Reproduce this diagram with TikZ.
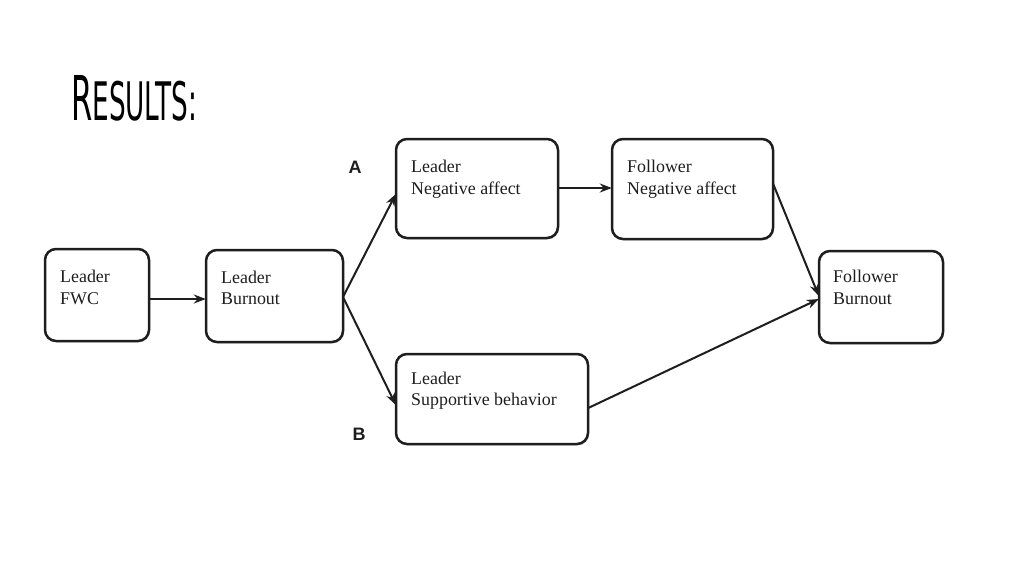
\documentclass[tikz,border=0pt]{standalone}
\usepackage{fontspec}
\setmainfont{Liberation Serif}
\newfontfamily\labfont{Liberation Sans}
\newfontfamily\titlefont{DejaVu Sans Condensed}
\usetikzlibrary{arrows.meta,shadows}
\definecolor{ink}{HTML}{1E1E1E}
\tikzset{
  box/.style={draw=ink, line width=2.5pt, rounded corners=11pt, fill=white,
    drop shadow={opacity=0.2, shadow xshift=1.2pt, shadow yshift=-1.5pt}},
  txt/.style={anchor=north west, inner sep=0pt, align=left, font=\fontsize{17.9}{21.5}\selectfont, text=ink},
  conn/.style={draw=ink, line width=2pt, -{Stealth[length=12pt,width=9pt]}},
  lab/.style={font=\labfont\bfseries\fontsize{18}{18}\selectfont, text=ink, inner sep=0pt}
}
\begin{document}
\begin{tikzpicture}[x=1pt,y=-1pt]
\useasboundingbox[fill=white] (0,0) rectangle (1024,576);
% title
\node[anchor=north west, inner sep=0pt] (title) at (71,75)
  {\resizebox{126pt}{45pt}{\titlefont R\fontsize{8.6}{9}\selectfont ESULTS:}};
% boxes
\path[box] (45,249) rectangle (149,341);
\node[inner sep=0pt, minimum width=104pt, minimum height=92pt] (fwc) at (97,295) {};
\path[box] (206,250) rectangle (343,342);
\node[inner sep=0pt, minimum width=137pt, minimum height=92pt] (lb) at (274.5,296) {};
\path[box] (396,139) rectangle (558,238);
\node[inner sep=0pt, minimum width=162pt, minimum height=99pt] (lna) at (477,188.5) {};
\path[box] (612,139) rectangle (773,239);
\node[inner sep=0pt, minimum width=161pt, minimum height=100pt] (fna) at (692.5,189) {};
\path[box] (819,251) rectangle (943,343);
\node[inner sep=0pt, minimum width=124pt, minimum height=92pt] (fb) at (881,297) {};
\path[box] (396,354) rectangle (588,444);
\node[inner sep=0pt, minimum width=192pt, minimum height=90pt] (lsb) at (492,399) {};
% texts
\node[txt] (t1) at (60,270) {Leader\\FWC};
\node[txt] (t2) at (221,270.5) {Leader\\Burnout};
\node[txt] (t3) at (411,160) {Leader\\Negative affect};
\node[txt] (t4) at (627,160) {Follower\\Negative affect};
\node[txt] (t5) at (833,270) {Follower\\Burnout};
\node[txt] (t6) at (411,371.5) {Leader\\Supportive behavior};
% labels
\node[lab] (A) at (355,167) {A};
\node[lab] (B) at (359,434) {B};
% connectors
\draw[conn] (fwc.east |- 0,299) -- (lb.west |- 0,299);
\coordinate (apex) at (343,297);
\draw[conn] (apex) -- (lna.west |- 0,194);
\draw[conn] (apex) -- (lsb.west |- 0,405);
\draw[conn] (lna.east |- 0,188) -- (fna.west |- 0,188);
\draw[conn] (fna.east |- 0,184) -- (fb.west |- 0,296);
\draw[conn] (lsb.east |- 0,408) -- (fb.west |- 0,299);
\end{tikzpicture}
\end{document}
